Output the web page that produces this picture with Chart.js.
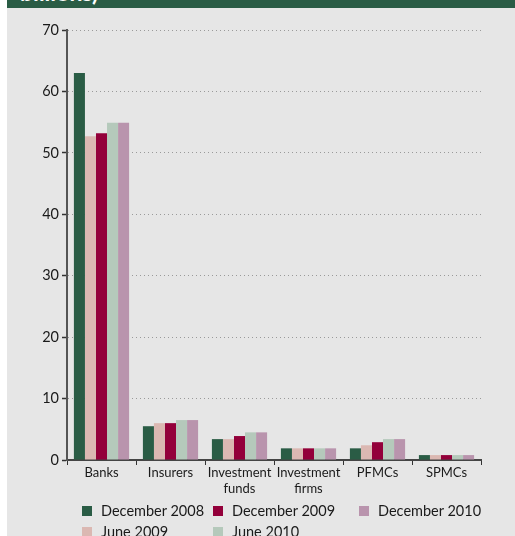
<!DOCTYPE html>
<html>
<head>
<meta charset="utf-8">
<script src="https://cdn.jsdelivr.net/npm/chart.js@4/dist/chart.umd.min.js"></script>
<style>
  html, body { margin: 0; padding: 0; background: #fff; }
  body { width: 515px; height: 536px; position: relative; overflow: hidden; font-family: Lato, 'Open Sans', sans-serif; }
  #painel { position: absolute; left: 7px; top: 0; width: 508px; height: 536px; background: #e6e6e6; }
  #cabeca { position: absolute; left: 0; top: 0; width: 508px; height: 8px; background: #2a5c45; overflow: hidden; }
  #cabeca span { position: absolute; left: 13px; top: -19px; color: #fff; font-weight: bold; font-size: 23px; line-height: 23px; }
  #grafico { position: absolute; left: 0; top: 8px; width: 508px; height: 495px; }
  #legenda { position: absolute; left: 0; top: 501px; width: 508px; font-size: 14.5px; color: #1a1a1a; }
  .item { position: absolute; white-space: nowrap; line-height: 20px; }
  .item i { display: inline-block; width: 10px; height: 10px; margin-right: 9px; vertical-align: 0px; }
</style>
</head>
<body>
<div id="painel">
  <div id="cabeca"><span>billions)</span></div>
  <div id="grafico"><canvas id="g"></canvas></div>
  <div id="legenda"></div>
</div>
<script>
// categorias e séries (em bilhões)
const categorias = ['Banks', 'Insurers', ['Investment', 'funds'], ['Investment', 'firms'], 'PFMCs', 'SPMCs'];
const series = ['December 2008', 'June 2009', 'December 2009', 'June 2010', 'December 2010'];
const cores = ['#2a5c45', '#dbb8b2', '#93003a', '#b5c9bb', '#b994ad'];
const dez2008 = [63.0, 5.5, 3.4, 1.9, 1.9, 0.8];
const jun2009 = [52.7, 6.0, 3.4, 1.9, 2.4, 0.8];
const dez2009 = [53.2, 6.0, 3.9, 1.9, 2.9, 0.8];
const jun2010 = [54.9, 6.5, 4.5, 1.9, 3.4, 0.8];
const dez2010 = [54.9, 6.5, 4.5, 1.9, 3.4, 0.8];
const valores = [dez2008, jun2009, dez2009, jun2010, dez2010];
const yTicks = [0, 10, 20, 30, 40, 50, 60, 70];

// posição das legendas (coluna, linha) — ordem por coluna como no original
const legPos = [[75, 0], [75, 21], [206, 0], [206, 21], [352, 0]];
document.getElementById('legenda').innerHTML = series.map((s, i) =>
  `<div class="item" style="left:${legPos[i][0]}px;top:${legPos[i][1]}px"><i style="background:${cores[i]}"></i>${s}</div>`
).join('');

Chart.defaults.font.family = "Lato, 'Open Sans', sans-serif";
Chart.defaults.color = '#1a1a1a';

new Chart(document.getElementById('g'), {
  type: 'bar',
  data: {
    labels: categorias,
    datasets: series.map((s, i) => ({
      label: s,
      data: valores[i],
      backgroundColor: cores[i],
      borderWidth: 0,
      barPercentage: 1,
      categoryPercentage: 0.8,
    })),
  },
  options: {
    responsive: true,
    maintainAspectRatio: false,
    animation: false,
    layout: { padding: { top: 22, right: 34, left: 0, bottom: 0 } },
    plugins: { legend: { display: false }, tooltip: { enabled: false } },
    scales: {
      x: {
        afterFit: (s) => { s.height = 43; },
        grid: { display: true, offset: true, drawOnChartArea: false, drawTicks: true, tickLength: 5, color: '#333', lineWidth: 1 },
        border: { display: true, color: '#444', width: 2 },
        ticks: { font: { size: 13 }, color: '#1a1a1a', padding: 0, maxRotation: 0, autoSkip: false },
      },
      y: {
        min: 0, max: 70,
        afterFit: (s) => { s.width = 60; },
        afterBuildTicks: (s) => { s.ticks = yTicks.map(v => ({ value: v })); },
        grid: {
          color: '#9a9a9a', lineWidth: 1,
          tickLength: 5, tickColor: '#333', tickBorderDash: [], tickWidth: 1.5,
        },
        border: { display: true, color: '#555', width: 2, dash: [1, 3] },
        ticks: { font: { size: 14.5 }, color: '#1a1a1a', padding: 3 },
      },
    },
  },
});
</script>
</body>
</html>
